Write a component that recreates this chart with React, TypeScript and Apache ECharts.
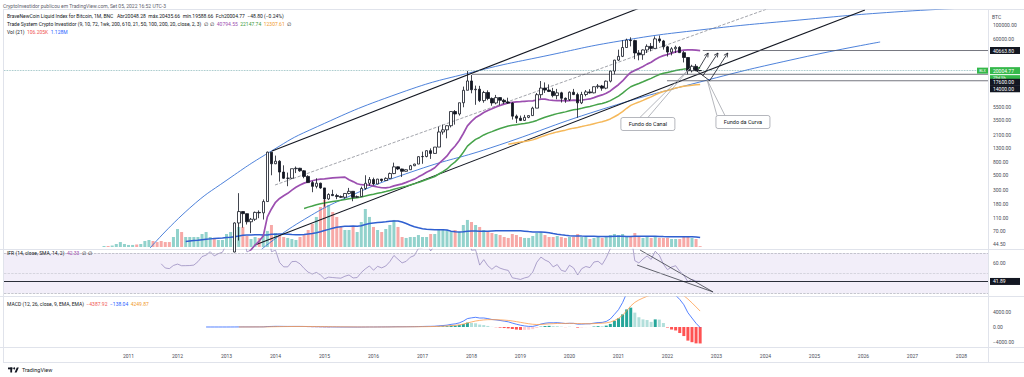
import React, { useEffect, useRef } from "react";
import * as echarts from "echarts";

// ---------- axis frame: monthly categories Jul 2008 .. Jul 2028 ----------
const AXIS_MONTHS = 241;
const DATA_OFFSET = 24; // Jul 2010 is category 24
const categories: string[] = [];
for (let i = 0; i < AXIS_MONTHS; i++) {
  const m = 6 + i;
  const y = 2008 + Math.floor(m / 12);
  const mm = (m % 12) + 1;
  categories.push(`${y}-${String(mm).padStart(2, "0")}`);
}
const yrIdx = (t: number) => (t - 2008.5) * 12;

// ---------- monthly OHLC [open, high, low, close] ----------
const ohlc2010 = [[0.05, 0.2, 0.05, 0.07], [0.07, 0.08, 0.06, 0.06], [0.06, 0.2, 0.06, 0.062], [0.062, 0.19, 0.06, 0.19], [0.19, 0.5, 0.19, 0.21], [0.21, 0.3, 0.17, 0.3]];
const ohlc2011 = [[0.3, 0.52, 0.3, 0.52], [0.52, 1.1, 0.52, 0.86], [0.86, 0.95, 0.7, 0.78], [0.78, 3.5, 0.6, 3.5], [3.5, 8.9, 2.9, 8.7], [8.7, 31.9, 8.7, 16.1], [16.1, 16.7, 12.5, 13.4], [13.4, 13.5, 7.2, 8.2], [8.2, 8.9, 4.4, 5.14], [5.14, 5.3, 2.0, 3.25], [3.25, 3.6, 2.0, 2.97], [2.97, 4.8, 2.8, 4.72]];
const ohlc2012 = [[4.72, 7.4, 4.5, 5.5], [5.5, 6.3, 4.2, 4.86], [4.86, 5.4, 4.6, 4.9], [4.9, 5.4, 4.7, 4.95], [4.95, 5.2, 4.9, 5.15], [5.15, 6.8, 5.1, 6.69], [6.69, 9.5, 6.5, 9.35], [9.35, 16.4, 7.1, 10.2], [10.2, 12.5, 10.1, 12.4], [12.4, 12.9, 9.7, 11.2], [11.2, 12.6, 10.5, 12.6], [12.6, 13.9, 12.6, 13.5]];
const ohlc2013 = [[13.5, 20.8, 13.2, 20.4], [20.4, 33.5, 19.6, 33.4], [33.4, 95, 33, 93], [93, 266, 50, 139], [139, 140, 79, 129], [129, 130, 88, 97], [97, 111, 65, 106], [106, 139, 100, 135], [135, 145, 110, 133], [133, 213, 105, 198], [198, 1150, 198, 1130], [1130, 1150, 500, 750]];
const ohlc2014 = [[750, 1000, 740, 820], [820, 850, 400, 560], [560, 710, 440, 450], [450, 550, 340, 450], [450, 630, 440, 630], [630, 680, 540, 640], [640, 650, 565, 585], [585, 600, 450, 480], [480, 500, 380, 386], [386, 410, 275, 338], [338, 450, 315, 378], [378, 385, 310, 320]];
const ohlc2015 = [[320, 320, 165, 217], [217, 265, 210, 254], [254, 300, 240, 244], [244, 260, 215, 236], [236, 245, 225, 230], [230, 265, 220, 263], [263, 320, 255, 284], [284, 285, 200, 230], [230, 245, 225, 236], [236, 335, 236, 314], [314, 500, 300, 377], [377, 470, 345, 430]];
const ohlc2016 = [[430, 460, 350, 368], [368, 440, 366, 437], [437, 440, 395, 416], [416, 465, 412, 448], [448, 550, 440, 531], [531, 780, 520, 673], [673, 680, 600, 624], [624, 630, 470, 575], [575, 615, 570, 608], [608, 720, 605, 700], [700, 750, 690, 742], [742, 975, 740, 963]];
const ohlc2017 = [[963, 1150, 750, 970], [970, 1200, 940, 1190], [1190, 1290, 890, 1080], [1080, 1350, 1070, 1350], [1350, 2760, 1350, 2300], [2300, 2980, 2100, 2480], [2480, 2900, 1840, 2870], [2870, 4750, 2700, 4730], [4730, 4980, 2980, 4340], [4340, 6450, 4100, 6450], [6450, 11400, 5500, 10000], [10000, 19800, 10000, 13900]];
const ohlc2018 = [[13900, 17200, 9000, 10200], [10200, 11800, 6000, 10400], [10400, 11700, 6600, 6950], [6950, 9800, 6450, 9250], [9250, 9990, 7050, 7500], [7500, 7770, 5800, 6400], [6400, 8500, 6100, 7730], [7730, 7760, 5900, 7030], [7030, 7400, 6150, 6630], [6630, 7700, 6200, 6370], [6370, 6550, 3560, 4020], [4020, 4250, 3150, 3740]];
const ohlc2019 = [[3740, 4100, 3380, 3460], [3460, 4200, 3410, 3850], [3850, 4110, 3740, 4100], [4100, 5600, 4080, 5330], [5330, 9100, 5330, 8570], [8570, 13880, 7550, 10820], [10820, 13200, 9100, 10090], [10090, 12300, 9400, 9600], [9600, 10900, 7800, 8300], [8300, 10500, 7300, 9150], [9150, 9500, 6500, 7550], [7550, 7750, 6430, 7200]];
const ohlc2020 = [[7200, 9600, 6860, 9350], [9350, 10500, 8450, 8600], [8600, 9200, 3800, 6420], [6420, 9480, 6150, 8630], [8630, 10080, 8100, 9450], [9450, 10400, 8900, 9140], [9140, 11450, 8980, 11350], [11350, 12470, 10600, 11650], [11650, 12090, 9850, 10780], [10780, 14100, 10400, 13800], [13800, 19860, 13200, 19700], [19700, 29300, 17600, 28990]];
const ohlc2021 = [[28990, 41950, 28200, 33100], [33100, 58350, 32300, 45200], [45200, 61800, 44950, 58800], [58800, 64800, 47000, 57700], [57700, 59500, 30000, 37300], [37300, 41300, 28800, 35040], [35040, 42300, 29300, 41460], [41460, 50500, 37300, 47100], [47100, 52900, 39600, 43800], [43800, 67000, 43300, 61300], [61300, 69000, 53300, 57000], [57000, 59100, 42000, 46300]];
const ohlc2022 = [[46300, 47900, 32900, 38500], [38500, 45800, 34300, 43200], [43200, 48200, 37200, 45500], [45500, 47400, 37600, 37700], [37700, 40000, 26700, 31800], [31800, 31900, 17600, 19900], [19900, 24600, 18800, 23300], [23300, 25200, 19600, 20053.57], [20048.28, 20435.66, 19588.66, 20004.77]];
const ohlc: number[][] = [...ohlc2010, ...ohlc2011, ...ohlc2012, ...ohlc2013, ...ohlc2014, ...ohlc2015, ...ohlc2016, ...ohlc2017, ...ohlc2018, ...ohlc2019, ...ohlc2020, ...ohlc2021, ...ohlc2022];

// ---------- monthly volume (millions) ----------
const vol2010 = [0.12, 0.12, 0.18, 0.37, 0.61, 0.37];
const vol2011 = [0.25, 0.25, 0.31, 0.37, 0.74, 0.86, 0.74, 0.61, 0.74, 0.61, 0.61, 1.23];
const vol2012 = [2.21, 1.84, 1.23, 1.23, 1.23, 1.23, 1.6, 1.84, 1.23, 1.11, 0.86, 0.86];
const vol2013 = [1.6, 1.84, 2.09, 2.46, 2.46, 1.35, 0.98, 1.23, 1.11, 1.6, 1.97, 2.7];
const vol2014 = [1.72, 1.47, 1.23, 1.11, 0.98, 0.86, 1.23, 1.47, 2.09, 2.83, 3.69, 4.91];
const vol2015 = [5.77, 5.16, 4.3, 3.69, 2.46, 2.09, 2.09, 2.46, 1.84, 3.07, 4.67, 3.69];
const vol2016 = [2.46, 2.09, 1.84, 2.21, 2.7, 3.32, 2.46, 1.23, 1.11, 1.23, 1.23, 1.47];
const vol2017 = [1.23, 1.23, 1.6, 1.6, 2.09, 2.09, 2.09, 1.84, 2.09, 1.84, 2.7, 3.32];
const vol2018 = [3.07, 2.7, 2.46, 2.09, 1.84, 1.72, 1.6, 1.47, 1.23, 1.11, 1.6, 1.47];
const vol2019 = [1.23, 1.11, 1.11, 1.35, 1.72, 1.84, 1.47, 1.23, 1.23, 1.35, 1.23, 1.11];
const vol2020 = [1.23, 1.23, 1.6, 1.23, 1.23, 0.98, 1.11, 1.23, 1.11, 1.23, 1.47, 1.6];
const vol2021 = [1.47, 1.6, 1.35, 1.35, 1.72, 1.23, 1.11, 1.23, 1.11, 1.23, 1.11, 1.11];
const vol2022 = [1.11, 0.98, 0.98, 0.98, 1.23, 1.35, 1.11, 0.98, 0.106];
const volumes: number[] = [...vol2010, ...vol2011, ...vol2012, ...vol2013, ...vol2014, ...vol2015, ...vol2016, ...vol2017, ...vol2018, ...vol2019, ...vol2020, ...vol2021, ...vol2022];

// ---------- chart drawings, anchored in [decimal year, price] ----------
const channelUpper = [[2013.93, 1176], [2021.85, 241500]];
const channelLower = [[2013.58, 42.7], [2026.03, 169700]];
const channelMid = [[2013.99, 354.6], [2024.09, 182100]];
const arcUpper = [[2011.44, 38.5], [2012.25, 157.6], [2013.01, 423], [2013.95, 1218], [2014.7, 2466], [2016.54, 9091], [2018.03, 19064], [2019.6, 34720], [2021.03, 56890], [2022.66, 83830], [2024.7, 119300], [2026.64, 158200], [2028.54, 188700]];
const arcLower = [[2013.72, 37.1], [2014.5, 96.2], [2015.52, 240.6], [2016.89, 601.8], [2018.38, 1307], [2020.62, 4993], [2022.66, 13400], [2024.7, 31230], [2026.34, 54920]];
const levels = [{ price: 40663.8, from: 2022.72 }, { price: 17600, from: 2018.01 }, { price: 14000, from: 2021.99 }];
const arrows = [
  [[2022.6, 19064], [2022.83, 37250]],
  [[2022.72, 16560], [2023.03, 37250]],
  [[2022.87, 14380], [2023.23, 37250]],
];
const zigLine = [[2022.52, 21950], [2022.87, 13880]];
const callouts = [
  { text: "Fundo do Canal", box: [2021.6, 3047], tip: [2022.46, 21950], base: -4 },
  { text: "Fundo da Curva", box: [2023.54, 3269], tip: [2022.81, 14380], base: -22 },
];
const rsiLines = [
  [[2021.44, 73], [2022.93, 31.5]],
  [[2021.38, 58.1], [2022.93, 31.5]],
];
const priceTicks = [100000, 60000, 40663.8, 20004.77, 17600, 14000, 5500, 3500, 2100, 1300, 800, 500, 300, 180, 110, 70, 44.5];
const rsiTicks = [60, 41.89];
const macdTicks = [4000, 0, -4000];

// ---------- indicator helpers ----------
function sma(src: number[], len: number) {
  const out: (number | null)[] = [];
  let s = 0;
  for (let i = 0; i < src.length; i++) {
    s += src[i];
    if (i >= len) s -= src[i - len];
    out.push(i >= len - 1 ? s / len : null);
  }
  return out;
}
function ema(src: (number | null)[], len: number) {
  const out: (number | null)[] = new Array(src.length).fill(null);
  const a = 2 / (len + 1);
  let prev: number | null = null, seed = 0, cnt = 0;
  for (let i = 0; i < src.length; i++) {
    const v = src[i];
    if (v == null) continue;
    if (prev == null) {
      seed += v; cnt++;
      if (cnt === len) { prev = seed / len; out[i] = prev; }
    } else { prev = a * v + (1 - a) * prev; out[i] = prev; }
  }
  return out;
}
function rsi(src: number[], len: number) {
  const out: (number | null)[] = new Array(src.length).fill(null);
  let up = 0, dn = 0;
  for (let i = 1; i < src.length; i++) {
    const ch = src[i] - src[i - 1];
    const u = Math.max(ch, 0), d = Math.max(-ch, 0);
    if (i <= len) {
      up += u; dn += d;
      if (i === len) { up /= len; dn /= len; out[i] = dn === 0 ? 100 : 100 - 100 / (1 + up / dn); }
    } else {
      up = (up * (len - 1) + u) / len; dn = (dn * (len - 1) + d) / len;
      out[i] = dn === 0 ? 100 : 100 - 100 / (1 + up / dn);
    }
  }
  return out;
}
const toXY = (arr: (number | null)[]) => arr.map((v, i) => (v == null ? null : [DATA_OFFSET + i, v])).filter(Boolean);

const FONT = "Roboto, 'Noto Sans', sans-serif";
const INK = "#131722";
const LBL = "#4a4d57";

function buildOption(): any {
  const closes = ohlc.map((d) => d[3]);
  const ma20 = sma(closes, 20), ma50 = sma(closes, 50), ma100 = sma(closes, 100);
  const volMa = sma(volumes, 21);
  const rsiV = rsi(closes, 14);
  const fast = ema(closes, 12), slow = ema(closes, 26);
  const macd = fast.map((f, i) => (f != null && slow[i] != null ? f - (slow[i] as number) : null));
  const signal = ema(macd, 9);
  const hist = macd.map((m, i) => (m != null && signal[i] != null ? m - (signal[i] as number) : null));

  const grid = (top: number, height: number) => ({ left: 4, right: 36, top, height, containLabel: false });
  const catAxis = (gridIndex: number, show: boolean) => ({
    type: "category", gridIndex, data: categories, boundaryGap: true,
    axisLine: { show: false }, axisTick: { show: false }, splitLine: { show: false },
    axisLabel: show ? {
      interval: (_i: number, v: string) => v.endsWith("-01") && Number(v.slice(0, 4)) >= 2011,
      formatter: (v: string) => v.slice(0, 4), fontSize: 5, color: LBL, fontFamily: FONT, margin: 6,
    } : { show: false },
  });
  const drawAxis = (gridIndex: number) => ({ type: "value", gridIndex, min: -0.5, max: AXIS_MONTHS - 0.5, show: false });

  const richBase = {
    n: { color: LBL, fontSize: 5, fontFamily: FONT, padding: [0, 3] },
    k: { color: "#fff", backgroundColor: INK, fontSize: 5, fontFamily: FONT, padding: [1, 3], lineHeight: 7, width: 24 },
    g: { color: "#fff", backgroundColor: "#35b84a", fontSize: 5, fontFamily: FONT, padding: [1, 3], lineHeight: 7, width: 24 },
    g2: { color: "#fff", backgroundColor: "#35b84a", fontSize: 4.2, fontFamily: FONT, padding: [0, 3], lineHeight: 6, width: 24 },
    sp6: { lineHeight: 6, fontSize: 1 },
    sp16: { lineHeight: 16, fontSize: 1 },
  };
  const near = (v: number, a: number) => Math.abs(v - a) <= Math.abs(a) * 1e-6 + 1e-9;
  const fmtPrice = (v: number) => {
    if (near(v, 40663.8)) return "{k|40663.80}";
    if (near(v, 20004.77)) return "{sp6| }\n{g|20004.77}\n{g2|29d 5h}";
    if (near(v, 17600)) return "{sp16| }\n{k|17600.00}";
    if (near(v, 14000)) return "{sp16| }\n{k|14000.00}";
    return "{n|" + v.toFixed(2) + "}";
  };
  const fmtRsi = (v: number) => (near(v, 41.89) ? "{k|41.89}" : "{n|" + v.toFixed(2) + "}");
  const fmtMacd = (v: number) => "{n|" + (v < 0 ? "\u2212" : "") + Math.abs(v).toFixed(2) + "}";

  const valAxis = (gridIndex: number, extra: any) => ({
    gridIndex, position: "right", axisLine: { show: false }, axisTick: { show: false }, splitLine: { show: false }, ...extra,
  });

  const drawLine = (pts: number[][], color: string, width: number, type = "solid", smooth = false) => ({
    type: "line", xAxisIndex: 4, yAxisIndex: 0, data: pts.map(([t, p]) => [yrIdx(t), p]),
    showSymbol: false, symbol: "none", smooth, silent: true, z: 3,
    lineStyle: { color, width, type },
  });

  const series: any[] = [
    {
      type: "bar", xAxisIndex: 1, yAxisIndex: 1, barWidth: 3, z: 1, silent: true,
      data: volumes.map((v, i) => ({
        value: [DATA_OFFSET + i, v],
        itemStyle: { color: ohlc[i][3] >= ohlc[i][0] ? "rgba(38,166,154,0.5)" : "rgba(239,83,80,0.5)" },
      })),
    },
    { type: "line", xAxisIndex: 1, yAxisIndex: 1, data: toXY(volMa), showSymbol: false, symbol: "none", z: 2, silent: true, lineStyle: { color: "#2f5fd0", width: 1.5 } },
    drawLine(arcUpper, "#3a74d6", 0.9, "solid", true),
    drawLine(arcLower, "#3a74d6", 0.9, "solid", true),
    drawLine(channelUpper, INK, 1.1),
    drawLine(channelLower, INK, 1.1),
    drawLine(channelMid, "#8a8d96", 0.8, "dashed"),
    ...levels.map((l) => ({
      type: "line", xAxisIndex: 4, yAxisIndex: 0, data: [[yrIdx(l.from), l.price], [AXIS_MONTHS - 0.5, l.price]],
      showSymbol: false, symbol: "none", silent: true, z: 3, lineStyle: { color: "#50535e", width: 0.8 },
    })),
    { type: "line", xAxisIndex: 0, yAxisIndex: 0, data: toXY(ma100), showSymbol: false, symbol: "none", z: 4, silent: true, lineStyle: { color: "#f5b85a", width: 1.5 } },
    { type: "line", xAxisIndex: 0, yAxisIndex: 0, data: toXY(ma50), showSymbol: false, symbol: "none", z: 4, silent: true, lineStyle: { color: "#46a34a", width: 1.5 } },
    { type: "line", xAxisIndex: 0, yAxisIndex: 0, data: toXY(ma20), showSymbol: false, symbol: "none", z: 4, silent: true, lineStyle: { color: "#9c4fb0", width: 1.7 } },
    {
      type: "candlestick", xAxisIndex: 0, yAxisIndex: 0, barWidth: 3, z: 5, silent: true,
      encode: { x: 0, y: [1, 2, 3, 4] },
      data: ohlc.map(([o, h, l, c], i) => [DATA_OFFSET + i, o, c, l, h]),
      itemStyle: { color: "#ffffff", color0: INK, borderColor: INK, borderColor0: INK, borderWidth: 0.8 },
      markLine: {
        silent: true, symbol: "none", label: { show: false },
        lineStyle: { color: "#5f9ea0", width: 0.8, type: "dotted", opacity: 0.8 },
        data: [{ yAxis: 20004.77 }],
      },
    },
    {
      type: "line", xAxisIndex: 2, yAxisIndex: 2, data: toXY(rsiV), showSymbol: false, symbol: "none", silent: true, z: 3,
      lineStyle: { color: "#8e80b8", width: 0.7 },
      markArea: { silent: true, itemStyle: { color: "rgba(126,87,194,0.1)" }, data: [[{ yAxis: 30 }, { yAxis: 70 }]] },
      markLine: {
        silent: true, symbol: "none", label: { show: false },
        data: [
          { yAxis: 70, lineStyle: { color: "#a3a6af", type: "dashed", width: 0.6 } },
          { yAxis: 50, lineStyle: { color: "#c3c5cc", type: "dashed", width: 0.6 } },
          { yAxis: 30, lineStyle: { color: "#a3a6af", type: "dashed", width: 0.6 } },
          { yAxis: 41.89, lineStyle: { color: INK, type: "solid", width: 0.9 } },
        ],
      },
    },
    ...rsiLines.map((pts) => ({
      type: "line", xAxisIndex: 5, yAxisIndex: 2, data: pts.map(([t, v]) => [yrIdx(t), v]),
      showSymbol: false, symbol: "none", silent: true, z: 4, lineStyle: { color: "#3b3e47", width: 0.8 },
    })),
    {
      type: "bar", xAxisIndex: 3, yAxisIndex: 3, barWidth: 3, silent: true, z: 2,
      data: hist.map((h, i) => {
        if (h == null) return null;
        const p = i > 0 && hist[i - 1] != null ? (hist[i - 1] as number) : 0;
        const color = h >= 0 ? (p < h ? "#26a69a" : "#b2dfdb") : (p < h ? "#ffcdd2" : "#ff5252");
        return { value: [DATA_OFFSET + i, h], itemStyle: { color } };
      }).filter(Boolean),
    },
    { type: "line", xAxisIndex: 3, yAxisIndex: 3, data: toXY(macd), showSymbol: false, symbol: "none", silent: true, z: 3, lineStyle: { color: "#2962ff", width: 0.8 } },
    { type: "line", xAxisIndex: 3, yAxisIndex: 3, data: toXY(signal), showSymbol: false, symbol: "none", silent: true, z: 3, lineStyle: { color: "#ff9d4d", width: 0.8 } },
  ];

  return {
    animation: false,
    backgroundColor: "#ffffff",
    grid: [grid(10, 240), grid(190, 57), grid(249, 47), grid(297, 50)],
    xAxis: [catAxis(0, false), catAxis(1, false), catAxis(2, false), catAxis(3, true), drawAxis(0), drawAxis(2)],
    yAxis: [
      valAxis(0, {
        type: "log", logBase: 10, min: 35.85, max: 169700,
        axisLabel: { customValues: priceTicks, formatter: fmtPrice, rich: richBase, margin: 2, fontSize: 5 },
      }),
      { type: "value", gridIndex: 1, min: 0, max: 7, show: false },
      valAxis(2, {
        type: "value", min: 27.5, max: 74,
        axisLabel: { customValues: rsiTicks, formatter: fmtRsi, rich: richBase, margin: 2, fontSize: 5 },
      }),
      valAxis(3, {
        type: "value", min: -5333, max: 8000,
        axisLabel: { customValues: macdTicks, formatter: fmtMacd, rich: richBase, margin: 2, fontSize: 5 },
      }),
    ],
    series,
  };
}

function buildGraphics(chart: any): any[] {
  const px = (t: number, p: number) => chart.convertToPixel({ xAxisIndex: 4, yAxisIndex: 0 }, [yrIdx(t), p]) as number[];
  const els: any[] = [];
  const sep = "#e0e3eb";
  const hline = (y: number, x1 = 0, x2 = 1024) => ({ type: "line", shape: { x1, y1: y, x2, y2: y }, style: { stroke: sep, lineWidth: 1 }, silent: true });
  els.push(hline(9.5, 3, 1024), hline(249.5), hline(296.5), hline(347.5), hline(362.5, 3, 1024));
  els.push({ type: "line", shape: { x1: 988.5, y1: 9, x2: 988.5, y2: 362 }, style: { stroke: sep, lineWidth: 1 }, silent: true });
  els.push({ type: "line", shape: { x1: 3.5, y1: 9, x2: 3.5, y2: 362 }, style: { stroke: sep, lineWidth: 1 }, silent: true });

  const text = (x: number, y: number, t: string, size: number, fill: string, rich?: any, align = "left") => ({
    type: "text", x, y, silent: true, z: 100,
    style: { text: t, fill, fontSize: size, fontFamily: FONT, verticalAlign: "middle", align, rich },
  });
  const rich = {
    p: { fill: "#9c4fb0", fontSize: 5, fontFamily: FONT },
    g: { fill: "#3c9a40", fontSize: 5, fontFamily: FONT },
    o: { fill: "#f09a2c", fontSize: 5, fontFamily: FONT },
    r: { fill: "#ef5350", fontSize: 5, fontFamily: FONT },
    b: { fill: "#2962ff", fontSize: 5, fontFamily: FONT },
  };
  els.push(text(3, 5.5, "CryptoInvestidor publicou em TradingView.com, Set 05, 2022 16:52 UTC-3", 5, "#5d606b"));
  els.push(text(7, 16, "BraveNewCoin Liquid Index for Bitcoin, 1M, BNC   Abr20048.28  máx.20435.66  mín.19588.66  Fch20004.77  \u221248.80 (\u22120.24%)", 5, INK));
  els.push(text(7, 24, "Trade System Crypto Investidor (9, 10, 72, 1wk, 200, 610, 21, 50, 100, 200, 20, close, 2, 3)  \u2205  \u2205  {p|40794.55}  {g|22147.74}  {o|12307.61}  \u2205", 5, INK, rich));
  els.push(text(7, 32, "Vol (21)  {r|106.205K}  {b|1.128M}", 5, INK, rich));
  els.push(text(7, 252.5, "IFR (14, close, SMA, 14, 2)  {p|42.33}  \u2205  \u2205", 5, INK, rich));
  els.push(text(7, 303.5, "MACD (12, 26, close, 9, EMA, EMA)  {r|\u22124387.92}  {b|\u2212138.04}  {o|4249.87}", 5, INK, rich));
  els.push(text(992, 17, "BTC", 5, LBL));

  // BLX tag on the last price
  const lp = px(2022.67, 20004.77);
  els.push({ type: "rect", shape: { x: 977, y: lp[1] - 3, width: 11, height: 6 }, style: { fill: "#35b84a" }, silent: true, z: 99 });
  els.push(text(982.5, lp[1], "BLX", 3.6, "#ffffff", undefined, "center"));

  // projection arrows
  const stroke = { stroke: INK, lineWidth: 0.8, fill: "none" };
  const zl = zigLine.map(([t, p]) => px(t, p));
  els.push({ type: "line", shape: { x1: zl[0][0], y1: zl[0][1], x2: zl[1][0], y2: zl[1][1] }, style: stroke, silent: true, z: 90 });
  arrows.forEach((a) => {
    const s = px(a[0][0], a[0][1]);
    const e = px(a[1][0], a[1][1]);
    els.push({ type: "line", shape: { x1: s[0], y1: s[1], x2: e[0], y2: e[1] }, style: stroke, silent: true, z: 90 });
    const dx = e[0] - s[0], dy = e[1] - s[1];
    const L = Math.hypot(dx, dy) || 1;
    const ux = dx / L, uy = dy / L, h = 4, w = 2;
    const bx = e[0] - ux * h, by = e[1] - uy * h;
    els.push({ type: "polyline", shape: { points: [[bx - uy * w, by + ux * w], [e[0], e[1]], [bx + uy * w, by - ux * w]] }, style: stroke, silent: true, z: 90 });
  });

  // callouts
  callouts.forEach((c) => {
    const b = px(c.box[0], c.box[1]);
    const t = px(c.tip[0], c.tip[1]);
    const W = 54, H = 13;
    const top = b[1] - H / 2;
    els.push({ type: "polyline", shape: { points: [[b[0] + c.base - 4, top], [t[0], t[1]], [b[0] + c.base + 4, top]] }, style: { stroke: "#9598a1", lineWidth: 0.7, fill: "none" }, silent: true, z: 91 });
    els.push({ type: "rect", shape: { x: b[0] - W / 2, y: top, width: W, height: H, r: 2 }, style: { fill: "#ffffff", stroke: "#9598a1", lineWidth: 0.7 }, silent: true, z: 92 });
    els.push(text(b[0], b[1], c.text, 5.5, INK, undefined, "center"));
  });

  // TradingView logo
  els.push({ type: "rect", shape: { x: 8, y: 367.5, width: 4.5, height: 1.8 }, style: { fill: INK }, silent: true });
  els.push({ type: "rect", shape: { x: 10.3, y: 367.5, width: 1.8, height: 5 }, style: { fill: INK }, silent: true });
  els.push({ type: "circle", shape: { cx: 14.2, cy: 368.4, r: 0.95 }, style: { fill: INK }, silent: true });
  els.push({ type: "polygon", shape: { points: [[14.6, 372.5], [16.8, 367.5], [18.8, 367.5], [16.6, 372.5]] }, style: { fill: INK }, silent: true });
  els.push(text(22, 370, "TradingView", 5.5, INK));
  return els;
}

export default function App() {
  const ref = useRef<HTMLDivElement>(null);
  useEffect(() => {
    const el = ref.current;
    if (!el) return;
    const chart = echarts.init(el, undefined, { renderer: "svg" });
    chart.setOption(buildOption());
    chart.setOption({ graphic: { elements: buildGraphics(chart) } });
    return () => chart.dispose();
  }, []);
  return <div ref={ref} style={{ position: "fixed", left: 0, top: 0, width: 1024, height: 377, background: "#ffffff" }} />;
}
